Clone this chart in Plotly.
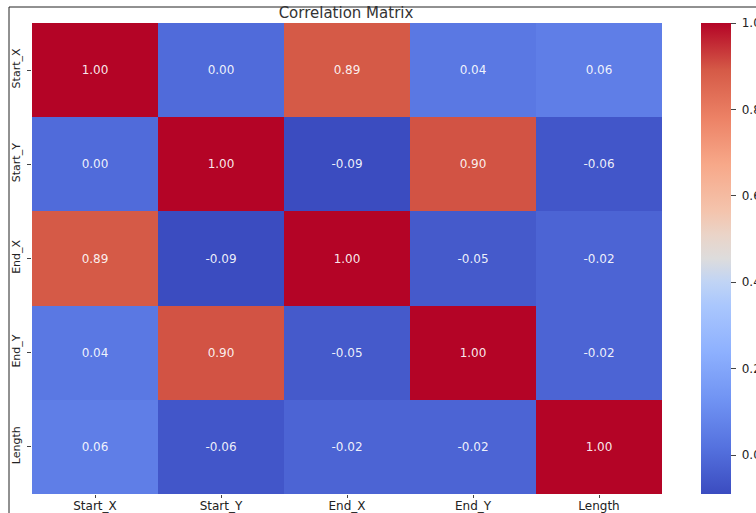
import plotly.graph_objects as go

# Variables of the correlation matrix
labels = ["Start_X", "Start_Y", "End_X", "End_Y", "Length"]

# Pairwise correlation values, one row per variable
row_start_x = [1.00, 0.00, 0.89, 0.04, 0.06]
row_start_y = [0.00, 1.00, -0.09, 0.90, -0.06]
row_end_x = [0.89, -0.09, 1.00, -0.05, -0.02]
row_end_y = [0.04, 0.90, -0.05, 1.00, -0.02]
row_length = [0.06, -0.06, -0.02, -0.02, 1.00]
corr = [row_start_x, row_start_y, row_end_x, row_end_y, row_length]

cbar_ticks = [0.0, 0.2, 0.4, 0.6, 0.8, 1.0]

# matplotlib "coolwarm" colormap, sampled
coolwarm = [
    [0.00, "#3b4cc0"],
    [0.10, "#5572df"],
    [0.20, "#7093f3"],
    [0.30, "#8db0fe"],
    [0.40, "#aac7fd"],
    [0.45, "#c0d4f5"],
    [0.50, "#dddcdc"],
    [0.55, "#ead4c8"],
    [0.60, "#f4c4ad"],
    [0.70, "#f7a889"],
    [0.80, "#ec8165"],
    [0.90, "#d55a47"],
    [1.00, "#b40426"],
]

zmin = min(min(r) for r in corr)
zmax = max(max(r) for r in corr)

fig = go.Figure(
    go.Heatmap(
        z=corr,
        x=labels,
        y=labels,
        zmin=zmin,
        zmax=zmax,
        colorscale=coolwarm,
        texttemplate="%{z:.2f}",
        textfont=dict(color="rgba(255,255,255,0.92)", size=12, family="DejaVu Sans"),
        xgap=0,
        ygap=0,
        colorbar=dict(
            x=(701 - 32) / 630,
            xanchor="left",
            xpad=0,
            ypad=0,
            y=0.5,
            len=1,
            lenmode="fraction",
            thickness=30,
            outlinewidth=0,
            ticks="outside",
            ticklen=5,
            tickcolor="#444",
            tickvals=cbar_ticks,
            ticktext=["\u00a0" + f"{v:.1f}" for v in cbar_ticks],
            tickfont=dict(size=12, color="#222", family="DejaVu Sans"),
        ),
        hoverongaps=False,
    )
)

fig.update_layout(
    width=756,
    height=513,
    margin=dict(l=32, r=94, t=23, b=19, autoexpand=False),
    paper_bgcolor="white",
    plot_bgcolor="white",
    font=dict(family="DejaVu Sans", color="#222"),
    title=dict(
        text="Correlation Matrix",
        x=346 / 756,
        xanchor="center",
        y=1 - 13 / 513,
        yanchor="middle",
        font=dict(size=15, color="#333", family="DejaVu Sans"),
    ),
    xaxis=dict(
        showgrid=False,
        zeroline=False,
        ticks="outside",
        ticklen=3,
        tickcolor="#444",
        ticklabelstandoff=-2,
        tickfont=dict(size=12, color="#222"),
        showline=False,
    ),
    yaxis=dict(
        autorange="reversed",
        showgrid=False,
        zeroline=False,
        ticks="outside",
        ticklen=4,
        tickcolor="#444",
        tickangle=-90,
        ticklabelstandoff=3,
        tickfont=dict(size=11, color="#222"),
        showline=False,
    ),
    shapes=[
        # outer frame lines (top and left)
        dict(type="line", xref="paper", yref="paper",
             x0=(9 - 32) / 630, x1=(756 - 32) / 630,
             y0=(494 - 7) / 471, y1=(494 - 7) / 471,
             line=dict(color="#222", width=1)),
        dict(type="line", xref="paper", yref="paper",
             x0=(9 - 32) / 630, x1=(9 - 32) / 630,
             y0=(494 - 7) / 471, y1=(494 - 513) / 471,
             line=dict(color="#222", width=1)),
    ],
)

fig.write_html("out.html")
